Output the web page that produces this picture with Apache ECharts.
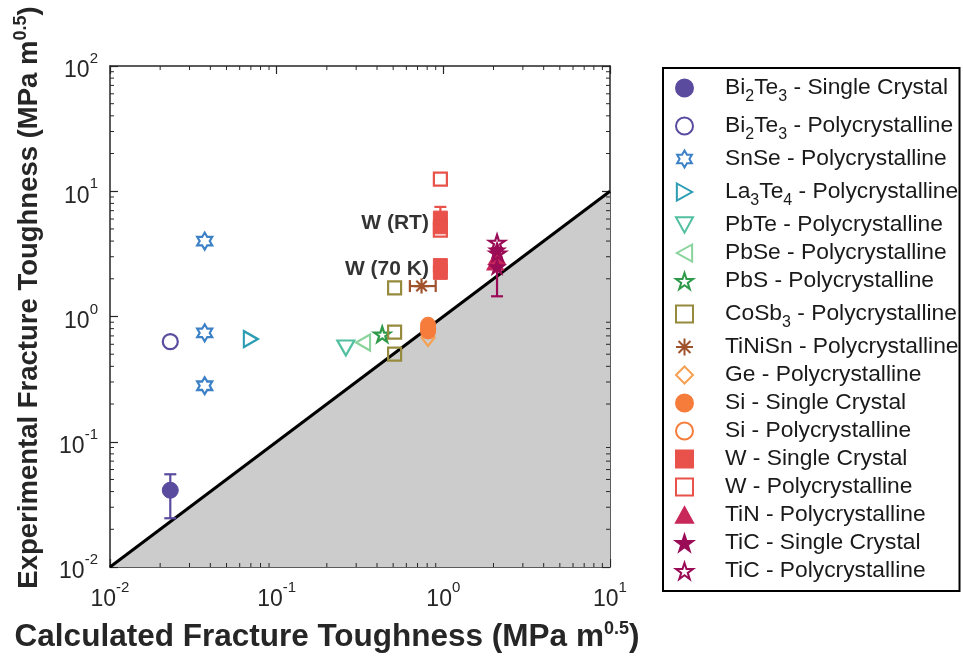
<!DOCTYPE html>
<html>
<head>
<meta charset="utf-8">
<script src="https://cdn.jsdelivr.net/npm/echarts@6/dist/echarts.min.js"></script>
<style>
  html, body { margin: 0; padding: 0; background: #fff; }
  #chart { width: 963px; height: 659px; }
</style>
</head>
<body>
<div id="chart"></div>
<script>
// --- data (x = calculated, y = experimental) ---
const biSingle = [[0.023, 0.041]];
const biPoly = [[0.023, 0.63]];
const snse = [[0.037, 4.0], [0.037, 0.74], [0.037, 0.28]];
const la3te4 = [[0.07, 0.66]];
const pbte = [[0.26, 0.56]];
const pbse = [[0.33, 0.62]];
const pbs = [[0.43, 0.72]];
const cosb3 = [[0.51, 1.69], [0.51, 0.75], [0.51, 0.5]];
const tinisn = [[0.74, 1.75]];
const ge = [[0.81, 0.68]];
const siSingle = [[0.81, 0.86], [0.81, 0.76]];
const siPoly = [[0.81, 0.8]];
const wSingle = [[0.96, 6.1], [0.96, 5.2], [0.96, 2.55], [0.96, 2.25]];
const wPoly = [[0.96, 12.5], [0.96, 4.9]];
const tin = [[2.1, 3.0], [2.05, 2.7]];
const ticSingle = [[2.1, 3.4], [2.1, 2.5]];
const ticPoly = [[2.1, 3.9], [2.12, 3.2]];

// error bars: [x, low, high] (vertical) / [y, xlow, xhigh] (horizontal)
const biSingleErr = [[0.023, 0.0245, 0.055]];
const wSingleErr = [[0.96, 5.2, 7.5]];
const ticSingleErr = [[2.1, 1.45, 3.5]];
const tinisnErr = [[1.75, 0.63, 0.9]];

const wLabelPoints = [[0.96, 5.6], [0.96, 2.4]];
const wLabelTexts = ['W (RT)', 'W (70 K)'];

const shadeVertices = [[0.01, 0.01], [10, 10], [10, 0.01]];
const parityLine = [[0.01, 0.01], [10, 10]];

const xDecades = [0.01, 0.1, 1];
const yDecades = [0.01, 0.1, 1, 10];
const minorSteps = [2, 3, 4, 5, 6, 7, 8, 9];

const FONT = 'Liberation Sans, Arial, sans-serif';

const SYM = {
  hexagram: 'path://M50,0 L35.57,25 L6.7,25 L21.13,50 L6.7,75 L35.57,75 L50,100 L64.43,75 L93.3,75 L78.87,50 L93.3,25 L64.43,25 Z',
  star: 'path://M50,0 L38.77,34.55 L2.45,34.55 L31.83,55.9 L20.61,90.45 L50,69.1 L79.39,90.45 L68.17,55.9 L97.55,34.55 L61.23,34.55 Z',
  asterisk: 'path://M50,0 L50,100 M0,50 L100,50 M15,15 L85,85 M85,15 L15,85',
  down: 'path://M0,0 L100,0 L50,90 Z',
  right: 'path://M0,0 L90,50 L0,100 Z',
  left: 'path://M90,0 L0,50 L90,100 Z',
  up: 'path://M50,0 L100,90 L0,90 Z',
};

function scatter(name, data, symbol, size, color, filled) {
  return {
    name,
    type: 'scatter',
    data,
    symbol,
    symbolSize: size,
    itemStyle: filled
      ? { color, borderColor: color, borderWidth: 1, opacity: 1 }
      : { color: 'rgba(255,255,255,0)', borderColor: color, borderWidth: 2.2, opacity: 1 },
    emphasis: { disabled: true },
    z: 5,
  };
}

function vErr(data, color) {
  return {
    type: 'custom',
    data,
    z: 4,
    silent: true,
    renderItem: (params, api) => {
      const top = api.coord([api.value(0), api.value(2)]);
      const bot = api.coord([api.value(0), api.value(1)]);
      const st = { stroke: color, lineWidth: 2.2 };
      return {
        type: 'group',
        children: [
          { type: 'line', shape: { x1: top[0], y1: top[1], x2: bot[0], y2: bot[1] }, style: st },
          { type: 'line', shape: { x1: top[0] - 6, y1: top[1], x2: top[0] + 6, y2: top[1] }, style: st },
          { type: 'line', shape: { x1: bot[0] - 6, y1: bot[1], x2: bot[0] + 6, y2: bot[1] }, style: st },
        ],
      };
    },
  };
}

function hErr(data, color) {
  return {
    type: 'custom',
    data,
    z: 4,
    silent: true,
    renderItem: (params, api) => {
      const l = api.coord([api.value(1), api.value(0)]);
      const r = api.coord([api.value(2), api.value(0)]);
      const st = { stroke: color, lineWidth: 2.2 };
      return {
        type: 'group',
        children: [
          { type: 'line', shape: { x1: l[0], y1: l[1], x2: r[0], y2: r[1] }, style: st },
          { type: 'line', shape: { x1: l[0], y1: l[1] - 6, x2: l[0], y2: l[1] + 6 }, style: st },
          { type: 'line', shape: { x1: r[0], y1: r[1] - 6, x2: r[0], y2: r[1] + 6 }, style: st },
        ],
      };
    },
  };
}

const xMinor = [];
xDecades.forEach((d) => minorSteps.forEach((m) => xMinor.push(d * m)));
const yMinor = [];
yDecades.forEach((d) => minorSteps.forEach((m) => yMinor.push(d * m)));

const AXIS_COLOR = '#262626';

const supLabel = (v) => '{b|10}{e|' + Math.round(Math.log10(v)) + '}';
const labelRich = {
  b: { fontSize: 23, fontFamily: FONT, color: '#262626', padding: [10, 0, 0, 0] },
  e: { fontSize: 15, fontFamily: FONT, color: '#262626', padding: [0, 0, 14, 0] },
};

const legendNames = [
  'Bi_2Te_3 - Single Crystal',
  'Bi_2Te_3 - Polycrystalline',
  'SnSe - Polycrystalline',
  'La_3Te_4 - Polycrystalline',
  'PbTe - Polycrystalline',
  'PbSe - Polycrystalline',
  'PbS - Polycrystalline',
  'CoSb_3 - Polycrystalline',
  'TiNiSn - Polycrystalline',
  'Ge - Polycrystalline',
  'Si - Single Crystal',
  'Si - Polycrystalline',
  'W - Single Crystal',
  'W - Polycrystalline',
  'TiN - Polycrystalline',
  'TiC - Single Crystal',
  'TiC - Polycrystalline',
];

const C = {
  bi: '#5a4b9f',
  snse: '#3c80c6',
  la: '#2b9db3',
  pbte: '#52c0a0',
  pbse: '#8ad39c',
  pbs: '#2f9a4a',
  cosb: '#968a3e',
  tinisn: '#a0522d',
  ge: '#f6a052',
  si: '#f67c3c',
  w: '#e8524b',
  tin: '#c8285a',
  tic: '#9b0c57',
};

const chart = echarts.init(document.getElementById('chart'), null, { renderer: 'canvas' });

const baseX = {
  type: 'log',
  logBase: 10,
  min: 0.01,
  max: 10,
  splitLine: { show: false },
  axisLine: { show: true, onZero: false, lineStyle: { color: AXIS_COLOR, width: 1.5 } },
  axisTick: { show: true, inside: true, length: 8, lineStyle: { color: AXIS_COLOR, width: 1.2 } },
};
const baseY = {
  type: 'log',
  logBase: 10,
  min: 0.01,
  max: 100,
  splitLine: { show: false },
  axisLine: { show: true, onZero: false, lineStyle: { color: AXIS_COLOR, width: 1.5 } },
  axisTick: { show: true, inside: true, length: 8, lineStyle: { color: AXIS_COLOR, width: 1.2 } },
};

const nameRich = {
  s: { fontSize: 18, fontWeight: 'bold', fontFamily: FONT, color: '#262626', padding: [0, 0, 17, 0] },
};

chart.setOption({
  animation: false,
  backgroundColor: '#ffffff',
  grid: { left: 110, top: 66, width: 500, height: 501, show: false, containLabel: false, outerBoundsMode: 'none' },
  xAxis: [
    {
      ...baseX,
      position: 'bottom',
      axisLabel: { margin: 11, formatter: supLabel, rich: labelRich },
      name: 'Calculated Fracture Toughness (MPa m{s|0.5})',
      nameLocation: 'middle',
      nameGap: 53,
      nameTextStyle: {
        fontSize: 31.5,
        fontWeight: 'bold',
        fontFamily: FONT,
        color: '#262626',
        padding: [0, 66, 0, 0],
        rich: nameRich,
      },
    },
    { ...baseX, position: 'top', axisLabel: { show: false } },
  ],
  yAxis: [
    {
      ...baseY,
      position: 'left',
      axisLabel: { margin: 12, formatter: supLabel, rich: labelRich },
      name: 'Experimental Fracture Toughness (MPa m{s|0.5})',
      nameLocation: 'middle',
      nameRotate: 90,
      nameGap: 63,
      nameTextStyle: {
        fontSize: 27.5,
        fontWeight: 'bold',
        fontFamily: FONT,
        color: '#262626',
        padding: [0, 0, 0, 38],
        rich: nameRich,
      },
    },
    { ...baseY, position: 'right', axisLabel: { show: false } },
  ],
  legend: {
    orient: 'vertical',
    left: 663,
    top: 68,
    data: legendNames,
    backgroundColor: '#fff',
    borderColor: '#000',
    borderWidth: 2,
    borderRadius: 0,
    padding: [3, 1, 8, 12],
    itemWidth: 17,
    itemHeight: 17,
    itemGap: 4,
    selectedMode: false,
    formatter: (n) => n.replace(/_(\d)/g, '{s|$1}'),
    textStyle: {
      fontSize: 22.8,
      lineHeight: 24,
      fontFamily: FONT,
      color: '#1a1a1a',
      padding: [0, 0, 0, 27],
      rich: {
        s: { fontSize: 16, lineHeight: 16, fontFamily: FONT, color: '#1a1a1a', padding: [18, 0, 0, 0] },
      },
    },
  },
  series: [
    {
      type: 'custom',
      silent: true,
      z: 1,
      data: [0],
      renderItem: (params, api) => ({
        type: 'polygon',
        shape: { points: shadeVertices.map((p) => api.coord(p)) },
        style: { fill: '#cccccc' },
      }),
    },
    {
      type: 'line',
      data: parityLine,
      symbol: 'none',
      silent: true,
      z: 2,
      lineStyle: { color: '#000', width: 3 },
    },
    {
      type: 'custom',
      silent: true,
      z: 3,
      data: xMinor,
      encode: { x: 0 },
      renderItem: (params, api) => {
        const v = api.value(0);
        const b = api.coord([v, 0.01]);
        const t = api.coord([v, 100]);
        const st = { stroke: AXIS_COLOR, lineWidth: 1 };
        return {
          type: 'group',
          children: [
            { type: 'line', shape: { x1: b[0], y1: b[1], x2: b[0], y2: b[1] - 4 }, style: st },
            { type: 'line', shape: { x1: t[0], y1: t[1], x2: t[0], y2: t[1] + 4 }, style: st },
          ],
        };
      },
    },
    {
      type: 'custom',
      silent: true,
      z: 3,
      data: yMinor.map((v) => [1, v]),
      renderItem: (params, api) => {
        const v = api.value(1);
        const l = api.coord([0.01, v]);
        const r = api.coord([10, v]);
        const st = { stroke: AXIS_COLOR, lineWidth: 1 };
        return {
          type: 'group',
          children: [
            { type: 'line', shape: { x1: l[0], y1: l[1], x2: l[0] + 4, y2: l[1] }, style: st },
            { type: 'line', shape: { x1: r[0], y1: r[1], x2: r[0] - 4, y2: r[1] }, style: st },
          ],
        };
      },
    },
    vErr(biSingleErr, C.bi),
    vErr(wSingleErr, C.w),
    vErr(ticSingleErr, C.tic),
    hErr(tinisnErr, C.tinisn),
    scatter(legendNames[0], biSingle, 'circle', 16, C.bi, true),
    scatter(legendNames[1], biPoly, 'circle', 15, C.bi, false),
    scatter(legendNames[2], snse, SYM.hexagram, [15, 17], C.snse, false),
    scatter(legendNames[3], la3te4, SYM.right, [14, 16], C.la, false),
    scatter(legendNames[4], pbte, SYM.down, [17, 15], C.pbte, false),
    scatter(legendNames[5], pbse, SYM.left, [14, 16], C.pbse, false),
    scatter(legendNames[6], pbs, SYM.star, [16, 15], C.pbs, false),
    scatter(legendNames[7], cosb3, 'rect', 13, C.cosb, false),
    scatter(legendNames[8], tinisn, SYM.asterisk, 15, C.tinisn, false),
    scatter(legendNames[9], ge, 'diamond', [13, 17], C.ge, false),
    scatter(legendNames[10], siSingle, 'circle', 15, C.si, true),
    scatter(legendNames[11], siPoly, 'circle', 14, C.si, false),
    scatter(legendNames[12], wSingle, 'rect', 14, C.w, true),
    scatter(legendNames[13], wPoly, 'rect', 13, C.w, false),
    scatter(legendNames[14], tin, SYM.up, [17, 15], C.tin, true),
    scatter(legendNames[15], ticSingle, SYM.star, [17, 16], C.tic, true),
    scatter(legendNames[16], ticPoly, SYM.star, [16, 15], C.tic, false),
    {
      type: 'scatter',
      data: wLabelPoints,
      symbolSize: 1,
      itemStyle: { color: 'rgba(0,0,0,0)' },
      silent: true,
      z: 6,
      label: {
        show: true,
        position: 'left',
        distance: 11,
        fontSize: 21,
        fontWeight: 'bold',
        fontFamily: FONT,
        color: '#000',
        formatter: (p) => wLabelTexts[p.dataIndex],
      },
    },
  ],
});
</script>
</body>
</html>
